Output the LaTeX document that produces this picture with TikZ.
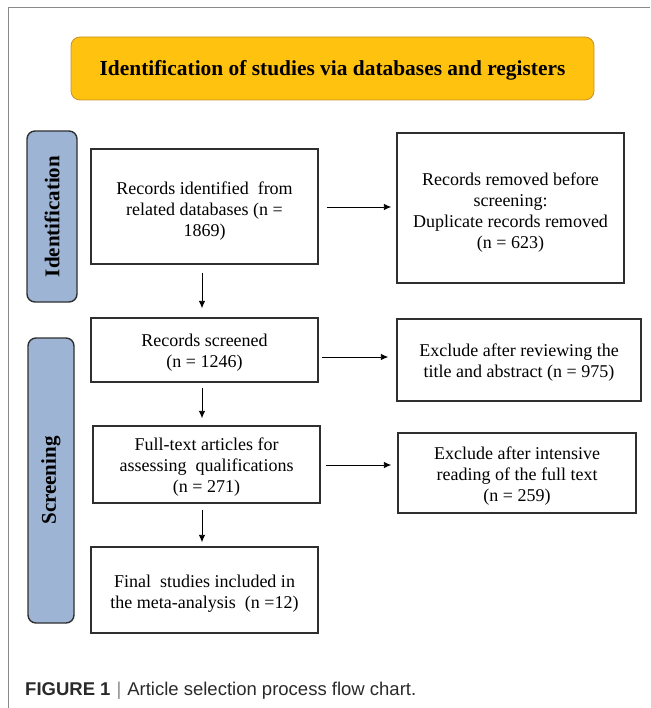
\documentclass[tikz,border=0pt]{standalone}
\usepackage{fontspec}
\setmainfont{Liberation Serif}
\newfontfamily\capfont{Liberation Sans}
\usetikzlibrary{arrows.meta,calc}
\definecolor{bannerfill}{HTML}{FFC20E}
\definecolor{bannerdraw}{HTML}{C8902A}
\definecolor{sidefill}{HTML}{9DB4D4}
\definecolor{boxdraw}{HTML}{2F2F2F}
\definecolor{framegray}{HTML}{8A8A8A}
\definecolor{captext}{HTML}{2A2A2A}
\tikzset{
  flowbox/.style={draw=boxdraw, line width=1.4pt, rectangle, inner sep=0pt},
  flowtext/.style={inner sep=0pt, align=center, font=\fontsize{18}{21}\selectfont},
  sidebox/.style={draw=boxdraw, fill=sidefill, line width=1.4pt, rounded corners=8pt, inner sep=0pt},
  sidelabel/.style={rotate=90, font=\bfseries\fontsize{21}{24}\selectfont},
  banner/.style={draw=bannerdraw, fill=bannerfill, line width=0.8pt, rounded corners=9pt, inner sep=0pt},
  bannertext/.style={inner sep=0pt, font=\bfseries\fontsize{21.4}{24}\selectfont},
  flowarrow/.style={draw=black, line width=0.9pt, -{Latex[length=7.5pt,width=6.5pt]}},
  frameline/.style={draw=framegray, line width=1pt}
}
\begin{document}
\begin{tikzpicture}[x=1pt,y=-1pt]
\useasboundingbox (0,0) rectangle (650,708);
% frame
\coordinate (fr1) at (650,8);
\coordinate (fr2) at (8,8);
\coordinate (fr3) at (8,708);
\draw[frameline] (fr1) -- (fr2) -- (fr3);
% banner
\node[banner, minimum width=523pt, minimum height=63pt] (ban) at (332.5,68.5) {};
\node[bannertext] (bant) at ([yshift=-2pt]ban.center) {Identification of studies via databases and registers};
% side boxes
\node[sidebox, minimum width=50pt, minimum height=171pt] (sid) at (52,216.5) {};
\node[sidelabel] (sidl) at (sid.center) {Identification};
\node[sidebox, minimum width=46pt, minimum height=285pt] (sscr) at (51,480.5) {};
\node[sidelabel] (sscrl) at (sscr.center) {Screening};
% flow boxes
\node[flowbox, minimum width=227pt, minimum height=115pt] (b1) at (204.5,206.5) {};
\node[flowtext] (b1t) at ([yshift=-5pt]b1.center) {Records identified\ \ from\\related databases (n =\\1869)};
\node[flowbox, minimum width=227pt, minimum height=150pt] (b2) at (510.5,208) {};
\node[flowtext] (b2t) at ([yshift=-5pt]b2.center) {Records removed before\\screening:\\Duplicate records removed\\(n = 623)};
\node[flowbox, minimum width=227pt, minimum height=64pt] (b3) at (204.5,350) {};
\node[flowtext] (b3t) at ([yshift=-2.5pt]b3.center) {Records screened\\(n = 1246)};
\node[flowbox, minimum width=244pt, minimum height=82pt] (b4) at (519,360) {};
\node[flowtext] (b4t) at ([yshift=-2.5pt]b4.center) {Exclude after reviewing the\\title and abstract (n = 975)};
\node[flowbox, minimum width=227pt, minimum height=77pt] (b5) at (206.5,464.5) {};
\node[flowtext] (b5t) at ([yshift=-3pt]b5.center) {Full-text articles for\\assessing\ \ qualifications\\(n = 271)};
\node[flowbox, minimum width=238pt, minimum height=80pt] (b6) at (517,473) {};
\node[flowtext] (b6t) at ([yshift=-3pt]b6.center) {Exclude after intensive\\reading of the full text\\(n = 259)};
\node[flowbox, minimum width=227pt, minimum height=86pt] (b7) at (204.5,590) {};
\node[flowtext] (b7t) at ([yshift=-3.5pt]b7.center) {Final\ \ studies included in\\the meta-analysis\ \ (n =12)};
% arrows
\draw[flowarrow, shorten <=8pt, shorten >=5pt] ([yshift=-0.5pt]b1.east) -- ([yshift=-0.5pt]b1.east -| b2.west);
\draw[flowarrow, shorten <=3pt, shorten >=8pt] ([yshift=-7pt]b3.east) -- ([yshift=-7pt]b3.east -| b4.west);
\draw[flowarrow, shorten <=5pt, shorten >=6pt] ([yshift=-0.5pt]b5.east) -- ([yshift=-0.5pt]b5.east -| b6.west);
\draw[flowarrow, shorten <=8pt, shorten >=9pt] ([xshift=-2.5pt]b1.south) -- ([xshift=-2.5pt]b1.south |- b3.north);
\draw[flowarrow, shorten <=5pt, shorten >=7pt] ([xshift=-2.5pt]b3.south) -- ([xshift=-2.5pt]b3.south |- b5.north);
\draw[flowarrow, shorten <=6pt, shorten >=4pt] ([xshift=-4.5pt]b5.south) -- ([xshift=-4.5pt]b5.south |- b7.north);
% caption
\node[anchor=base west, inner sep=0pt, text=captext, font=\capfont\fontsize{18.5}{22}\selectfont] (cap) at (25,695)
  {\textbf{FIGURE 1}\hspace{6pt}{\color{framegray}|}\hspace{6pt}Article selection process flow chart.};
\end{tikzpicture}
\end{document}
